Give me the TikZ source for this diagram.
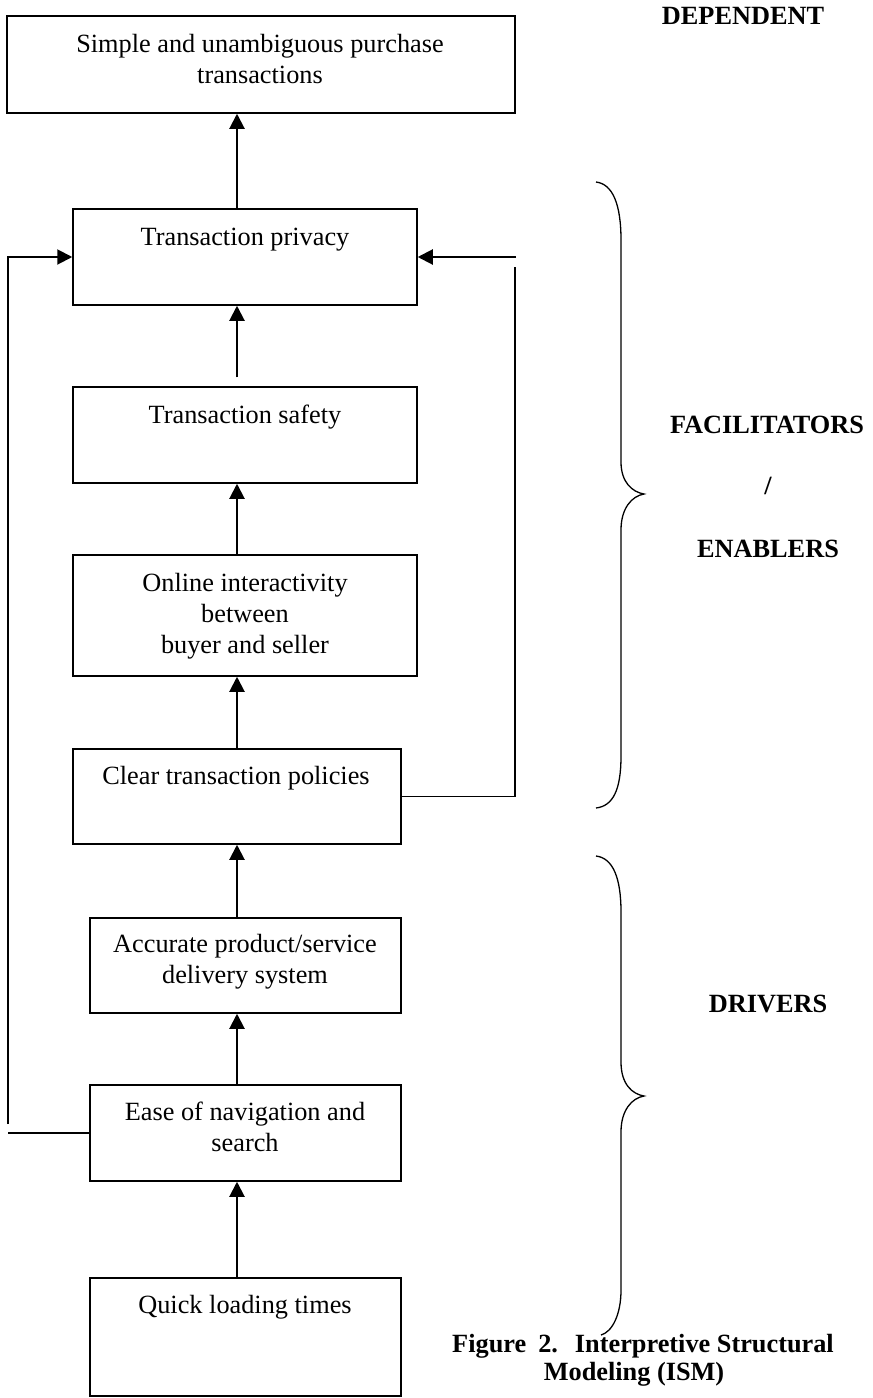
\documentclass[tikz,border=0pt]{standalone}
\usepackage{fontspec}
\setmainfont{Liberation Serif}
\usetikzlibrary{arrows.meta}
\begin{document}
\begin{tikzpicture}[x=0.5pt,y=-0.5pt,
  box/.style={draw,line width=0.75pt,inner sep=0pt},
  txt/.style={anchor=base,inner sep=0pt,font=\fontsize{13.15}{15.5}\selectfont},
  lbl/.style={anchor=base,inner sep=0pt,font=\fontsize{13.15}{15.5}\selectfont\bfseries},
  arr/.style={line width=1pt,-{Triangle[length=7.5pt,width=7.5pt]}},
  fb/.style={line width=0.85pt},
  brace/.style={line width=0.65pt}]
\useasboundingbox (0,0) rectangle (873,1398);

% boxes
\node[box,minimum width=254pt,minimum height=48.5pt] (b1) at (261,64.5) {};
\node[box,minimum width=172pt,minimum height=48pt] (b2) at (245,257) {};
\node[box,minimum width=172pt,minimum height=48pt] (b3) at (245,435) {};
\node[box,minimum width=172pt,minimum height=60.5pt] (b4) at (245,615.5) {};
\node[box,minimum width=164pt,minimum height=47.5pt] (b5) at (237,796.5) {};
\node[box,minimum width=155.5pt,minimum height=47.5pt] (b6) at (245.5,965.5) {};
\node[box,minimum width=155.5pt,minimum height=48pt] (b7) at (245.5,1133) {};
\node[box,minimum width=155.5pt,minimum height=59pt] (b8) at (245.5,1337) {};

% box texts
\node[txt] (t1) at (260,52) {\begin{tabular}[t]{@{}c@{}}Simple and unambiguous purchase\\ transactions\end{tabular}};
\node[txt] (t2) at (245,245) {Transaction privacy};
\node[txt] (t3) at (245,423) {Transaction safety};
\node[txt] (t4) at (245,591) {\begin{tabular}[t]{@{}c@{}}Online interactivity\\ between\\ buyer and seller\end{tabular}};
\node[txt] (t5) at (236,784) {Clear transaction policies};
\node[txt] (t6) at (245,952) {\begin{tabular}[t]{@{}c@{}}Accurate product/service\\ delivery system\end{tabular}};
\node[txt] (t7) at (245,1120) {\begin{tabular}[t]{@{}c@{}}Ease of navigation and\\ search\end{tabular}};
\node[txt] (t8) at (245,1313) {Quick loading times};

% side labels
\node[lbl] (dep) at (743,24) {DEPENDENT};
\node[lbl] (fac) at (767,433) {FACILITATORS};
\node[lbl] (sl) at (768,494) {/};
\node[lbl] (ena) at (768,557) {ENABLERS};
\node[lbl] (drv) at (768,1012) {DRIVERS};
\node[lbl] (cap1) at (643,1352) {Figure\hspace{6pt}2.\hspace{8.5pt}Interpretive Structural};
\node[lbl] (cap2) at (634,1380) {Modeling (ISM)};

% main arrows
\coordinate (ax) at (237,0);
\draw[arr] (b2.north -| ax) -- (b1.south -| ax);
\draw[arr,shorten <=4.5pt] (b3.north -| ax) -- (b2.south -| ax);
\draw[arr] (b4.north -| ax) -- (b3.south -| ax);
\draw[arr] (b5.north -| ax) -- (b4.south -| ax);
\draw[arr] (b6.north -| ax) -- (b5.south -| ax);
\draw[arr] (b7.north -| ax) -- (b6.south -| ax);
\draw[arr] (b8.north -| ax) -- (b7.south -| ax);

% left feedback
\coordinate (lb) at (8,1124);
\draw[arr] (lb) |- (b2.west);
\draw[fb] (b7.west) -- (b7.west -| lb);

% right feedback
\coordinate (rt) at (516,257);
\draw[arr] (rt) -- (b2.east);
\coordinate (rv) at (515,267);
\draw[fb] (b5.east) -| (rv);

% braces
\draw[brace] (596,182) .. controls (613,184) and (621,205) .. (621,240) -- (621,462)
  .. controls (621,482) and (632,492) .. (644,494)
  .. controls (632,496) and (621,508) .. (621,530) -- (621,756)
  .. controls (621,790) and (613,806) .. (596,808);
\draw[brace] (596,856) .. controls (613,858) and (621,878) .. (621,912) -- (621,1062)
  .. controls (621,1084) and (632,1094) .. (644,1096)
  .. controls (632,1098) and (621,1110) .. (621,1132) -- (621,1290)
  .. controls (621,1315) and (612,1332) .. (601,1335);
\end{tikzpicture}
\end{document}
